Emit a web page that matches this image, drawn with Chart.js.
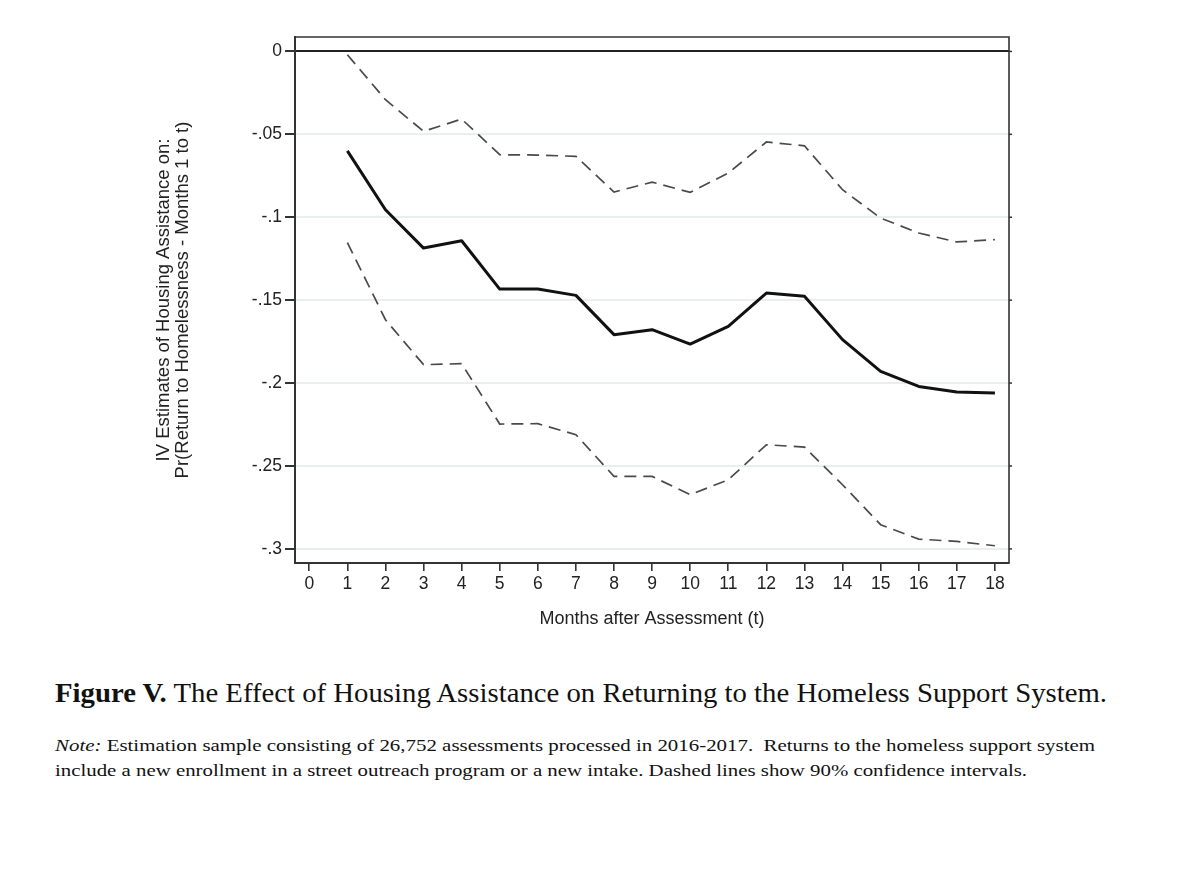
<!DOCTYPE html>
<html>
<head>
<meta charset="utf-8">
<script src="https://cdn.jsdelivr.net/npm/chart.js@4.4.1/dist/chart.umd.min.js"></script>
<style>
  html, body { margin: 0; padding: 0; background: #fff; }
  body { width: 1200px; height: 875px; position: relative; overflow: hidden; }
  #wrap { position: absolute; left: 0; top: 0; width: 1200px; height: 660px; }
  .cap { position: absolute; left: 55px; white-space: nowrap; line-height: 1; color: #111;
         font-family: "Liberation Serif", "DejaVu Serif", serif; transform-origin: 0 0; }
  #caption { font-size: 28px; top: 679px; }
  .note { font-size: 16.5px; }
  #note1 { top: 738px; }
  #note2 { top: 763px; }
</style>
</head>
<body>
<div id="wrap"><canvas id="c"></canvas></div>
<div id="caption" class="cap" data-w="1052"><b>Figure V.</b> The Effect of Housing Assistance on Returning to the Homeless Support System.</div>
<div id="note1" class="cap note" data-w="1040"><i>Note:</i> Estimation sample consisting of 26,752 assessments processed in 2016-2017.&nbsp; Returns to the homeless support system</div>
<div id="note2" class="cap note" data-w="972">include a new enrollment in a street outreach program or a new intake. Dashed lines show 90% confidence intervals.</div>
<script>
// ---- Data ----
const months = [1, 2, 3, 4, 5, 6, 7, 8, 9, 10, 11, 12, 13, 14, 15, 16, 17, 18];
const estimate = [-0.060, -0.0955, -0.1186, -0.1142, -0.1433, -0.1433, -0.1471, -0.1708, -0.1678, -0.1765,
                  -0.1658, -0.1457, -0.1477, -0.1738, -0.1929, -0.2020, -0.2054, -0.2060];
const upperCI = [-0.002, -0.0291, -0.0482, -0.0408, -0.0623, -0.0625, -0.0633, -0.0848, -0.0788, -0.0850,
                 -0.0733, -0.0546, -0.0569, -0.0834, -0.1005, -0.1095, -0.1149, -0.1135];
const lowerCI = [-0.1153, -0.1618, -0.1889, -0.1883, -0.2247, -0.2245, -0.2311, -0.2563, -0.2563, -0.2673,
                 -0.2583, -0.2372, -0.2386, -0.2613, -0.2854, -0.2941, -0.2955, -0.2981];
const xTickValues = [0, 1, 2, 3, 4, 5, 6, 7, 8, 9, 10, 11, 12, 13, 14, 15, 16, 17, 18];
const yTickValues = [0, -0.05, -0.1, -0.15, -0.2, -0.25, -0.3];
const xTitle = 'Months after Assessment (t)';
const yTitle = ['IV Estimates of Housing Assistance on:', 'Pr(Return to Homelessness - Months 1 to t)'];

const toPts = arr => months.map((m, i) => ({ x: m, y: arr[i] }));
const fmtY = v => v === 0 ? '0' : (v < 0 ? '-' : '') + String(Math.abs(v)).replace(/^0/, '');

const framePlugin = {
  id: 'frame',
  afterDraw(chart) {
    const { ctx, chartArea: a } = chart;
    const ys = chart.scales.y;
    ctx.save();
    ctx.strokeStyle = '#333';
    ctx.lineWidth = 1.6;
    ctx.beginPath();
    ctx.moveTo(a.left, a.top);
    ctx.lineTo(a.right, a.top);
    ctx.lineTo(a.right, a.bottom);
    ctx.stroke();
    // small outward ticks on the right border
    ctx.lineWidth = 1.5;
    ys.ticks.forEach(t => {
      const py = ys.getPixelForValue(t.value);
      ctx.beginPath();
      ctx.moveTo(a.right, py);
      ctx.lineTo(a.right + 3, py);
      ctx.stroke();
    });
    ctx.restore();
  }
};

Chart.defaults.font.family = '"Liberation Sans", Arial, sans-serif';
Chart.defaults.color = '#222';

new Chart(document.getElementById('c'), {
  type: 'line',
  data: {
    datasets: [
      { data: toPts(upperCI), borderColor: '#4a4a4a', borderWidth: 1.7, borderDash: [12, 7],
        pointRadius: 0, tension: 0, fill: false },
      { data: toPts(lowerCI), borderColor: '#4a4a4a', borderWidth: 1.7, borderDash: [12, 7],
        pointRadius: 0, tension: 0, fill: false },
      { data: toPts(estimate), borderColor: '#111', borderWidth: 3, borderJoinStyle: 'round',
        pointRadius: 0, tension: 0, fill: false }
    ]
  },
  options: {
    responsive: true,
    maintainAspectRatio: false,
    animation: false,
    events: [],
    layout: { padding: { left: 0, top: 37, right: 191, bottom: 0 } },
    plugins: { legend: { display: false }, tooltip: { enabled: false } },
    scales: {
      x: {
        type: 'linear', min: -0.375, max: 18.37,
        afterBuildTicks: s => { s.ticks = xTickValues.map(v => ({ value: v })); },
        afterFit: s => { s.height = 97; },
        ticks: { font: { size: 17.5 }, color: '#222', padding: 3, maxRotation: 0, autoSkip: false },
        grid: { drawOnChartArea: false, color: '#333', tickColor: '#333', tickLength: 8, lineWidth: 1.6 },
        border: { display: true, color: '#333', width: 2 },
        title: { display: true, text: xTitle, font: { size: 18 }, color: '#222',
                 padding: { top: 0, bottom: 30 } }
      },
      y: {
        type: 'linear', min: -0.3085, max: 0.0087,
        afterBuildTicks: s => { s.ticks = yTickValues.map(v => ({ value: v })); },
        afterFit: s => { s.width = 295; },
        ticks: { font: { size: 17.5 }, color: '#222', padding: 3, callback: v => fmtY(v) },
        grid: {
          color: c => (c.tick && c.tick.value === 0) ? '#222' : '#e8efef',
          lineWidth: 2,
          tickColor: '#333', tickLength: 10
        },
        border: { display: true, color: '#333', width: 2 },
        title: { display: true, text: yTitle, font: { size: 18.5, lineHeight: 1.03 }, color: '#222',
                 padding: { top: 154, bottom: 0 } }
      }
    }
  },
  plugins: [framePlugin]
});

// fit caption lines horizontally to the reference widths
document.querySelectorAll('.cap').forEach(el => {
  const target = parseFloat(el.dataset.w);
  const w = el.getBoundingClientRect().width;
  if (w > 0) el.style.transform = 'scaleX(' + (target / w) + ')';
});
</script>
</body>
</html>
